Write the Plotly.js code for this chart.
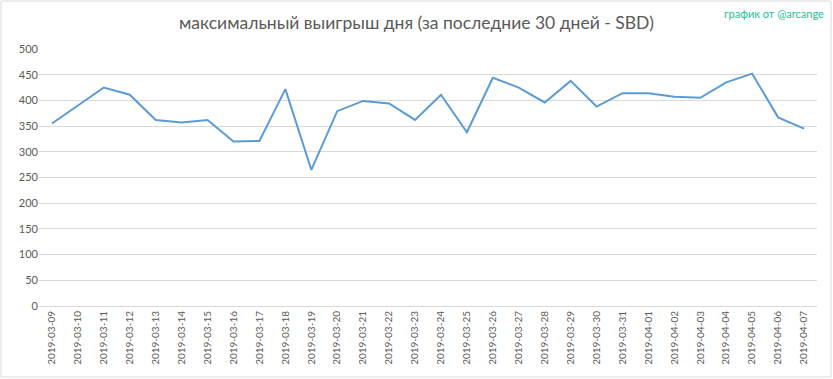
<!DOCTYPE html>
<html><head><meta charset="utf-8">
<script src="https://cdn.plot.ly/plotly-3.0.1.min.js"></script>
<style>html,body{margin:0;padding:0;background:#fff;}#chart{width:833px;height:379px;}</style>
</head><body><div id="chart"></div>
<script>
const dates = ["2019-03-09","2019-03-10","2019-03-11","2019-03-12","2019-03-13","2019-03-14","2019-03-15","2019-03-16","2019-03-17","2019-03-18","2019-03-19","2019-03-20","2019-03-21","2019-03-22","2019-03-23","2019-03-24","2019-03-25","2019-03-26","2019-03-27","2019-03-28","2019-03-29","2019-03-30","2019-03-31","2019-04-01","2019-04-02","2019-04-03","2019-04-04","2019-04-05","2019-04-06","2019-04-07"];
const maxWin = [355,390,425,411,362,357,362,320,321,422,265,379,399,394,362,411,338,444,425,396,438,388,414,414,407,405,435,452,367,345];
const yTicks = [0,50,100,150,200,250,300,350,400,450,500];
const titleText = "максимальный выигрыш дня (за последние 30 дней - SBD)";
const creditText = "график от @arcange";

const font = "Lato, 'Open Sans', sans-serif";
Plotly.newPlot("chart", [{
  x: dates, y: maxWin, type: "scatter", mode: "lines",
  line: {color: "#5b9bd5", width: 2}, hoverinfo: "x+y"
}], {
  width: 833, height: 379,
  margin: {l: 39, r: 16, t: 49, b: 73},
  paper_bgcolor: "#fff", plot_bgcolor: "#fff",
  showlegend: false,
  title: {text: titleText, x: 0.5, xanchor: "center", y: 0.94, yanchor: "middle",
          font: {family: font, size: 17.5, color: "#595959"}},
  xaxis: {type: "category", range: [-0.5, dates.length - 0.5], tickangle: -90,
          showgrid: false, zeroline: false, showline: true, linecolor: "#d9d9d9", linewidth: 1,
          ticks: "", tickfont: {family: font, size: 10, color: "#595959"}, automargin: false},
  yaxis: {range: [0, 500], tickvals: yTicks, showgrid: true, gridcolor: "#d9d9d9", gridwidth: 1,
          zeroline: false, showline: false, ticks: "", ticklen: 0,
          tickfont: {family: font, size: 11, color: "#595959"}, automargin: false},
  annotations: [{text: creditText, xref: "paper", yref: "paper", x: 1.012, y: 1.14,
                 xanchor: "right", yanchor: "middle", showarrow: false,
                 font: {family: font, size: 11, color: "#22bf94"}}],
  shapes: [{type: "rect", xref: "paper", yref: "paper",
            x0: (1-39)/778, x1: (831-39)/778, y0: (306-377)/257, y1: (306-1)/257,
            line: {color: "#d9d9d9", width: 1}, fillcolor: "rgba(0,0,0,0)", layer: "below"}]
}, {displayModeBar: false, staticPlot: true});
</script></body></html>
